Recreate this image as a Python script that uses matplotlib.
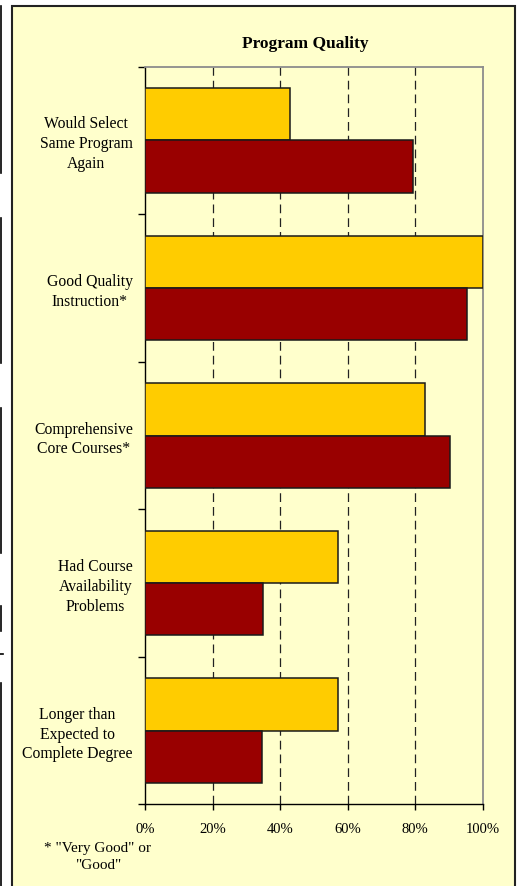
import matplotlib.pyplot as plt
import matplotlib.patches as mpatches
from matplotlib.lines import Line2D
import numpy as np

# ---------------- data ----------------
categories = ["Would Select\nSame Program\nAgain",
              "Good Quality\nInstruction*",
              "Comprehensive\nCore Courses*",
              "Had Course\nAvailability\nProblems",
              "Longer than\nExpected to\nComplete Degree"]
yellow_vals = [43, 100, 83, 57, 57]
red_vals = [79.5, 95.5, 90.5, 35, 34.6]
xticks = [0, 20, 40, 60, 80, 100]
xtick_labels = ["0%", "20%", "40%", "60%", "80%", "100%"]

W, H = 520, 886
plt.rcParams['font.family'] = ['Liberation Serif', 'DejaVu Serif']

fig = plt.figure(figsize=(W / 100, H / 100), dpi=100, facecolor='white')

# outer frame (light yellow panel)
frame = mpatches.Rectangle((12 / W, -0.05), (515 - 12) / W, 1.05 - 6 / H,
                           transform=fig.transFigure, facecolor='#FFFFCC',
                           edgecolor='#222222', linewidth=1.5, zorder=0)
fig.add_artist(frame)

# left-edge crop marks
for y0, y1 in [(6, 173), (218, 363), (408, 553), (606, 631), (683, 890)]:
    fig.add_artist(Line2D([0.8 / W, 0.8 / W], [1 - y0 / H, 1 - y1 / H],
                          transform=fig.transFigure, color='black', lw=1.2))
fig.add_artist(Line2D([0, 3 / W], [1 - 654 / H, 1 - 654 / H],
                      transform=fig.transFigure, color='black', lw=1.2))

left, right, top, bottom = 145.3, 482.5, 66.7, 804.3
ax = fig.add_axes([left / W, 1 - bottom / H, (right - left) / W, (bottom - top) / H])
ax.set_facecolor('#FFFFCC')

n = len(categories)
pos = np.arange(n)
bh = 0.354
ax.barh(pos - bh / 2, yellow_vals, height=bh, color='#FFCC00',
        edgecolor='#1a1a1a', linewidth=1.1, zorder=3)
ax.barh(pos + bh / 2, red_vals, height=bh, color='#990000',
        edgecolor='#1a1a1a', linewidth=1.1, zorder=3)

ax.set_xlim(0, 100)
ax.set_ylim(n - 0.5, -0.5)

for g in xticks[1:-1]:
    ax.axvline(g, color='#222222', lw=0.9, linestyle=(0, (7, 4)), zorder=1)

ax.set_xticks(xticks)
ax.set_xticklabels(xtick_labels, fontsize=10.5)
ax.tick_params(axis='x', direction='out', length=4, width=1, pad=9.5, colors='black')

ax.set_yticks(pos)
ax.set_yticklabels(categories, fontsize=11.3)
ax.set_yticks(np.arange(n + 1) - 0.5, minor=True)
ax.tick_params(axis='y', which='major', length=0, pad=9)
ax.tick_params(axis='y', which='minor', direction='out', length=5, width=1)
for lab in ax.get_yticklabels():
    lab.set_multialignment('center')
    lab.set_linespacing(1.33)

for s in ['left', 'bottom']:
    ax.spines[s].set_color('black')
    ax.spines[s].set_linewidth(1)
for s in ['top', 'right']:
    ax.spines[s].set_color('#8c8c8c')
    ax.spines[s].set_linewidth(1.3)

fig.text(305 / W, 1 - 48 / H, "Program Quality", ha='center', va='baseline',
         fontsize=12.5, fontweight='bold')
fig.text(98 / W, 1 - 857 / H, "* \"Very Good\" or\n\"Good\"", ha='center',
         va='center', multialignment='center', fontsize=11, linespacing=1.45)

fig.savefig("out.png", dpi=100, facecolor='white')
